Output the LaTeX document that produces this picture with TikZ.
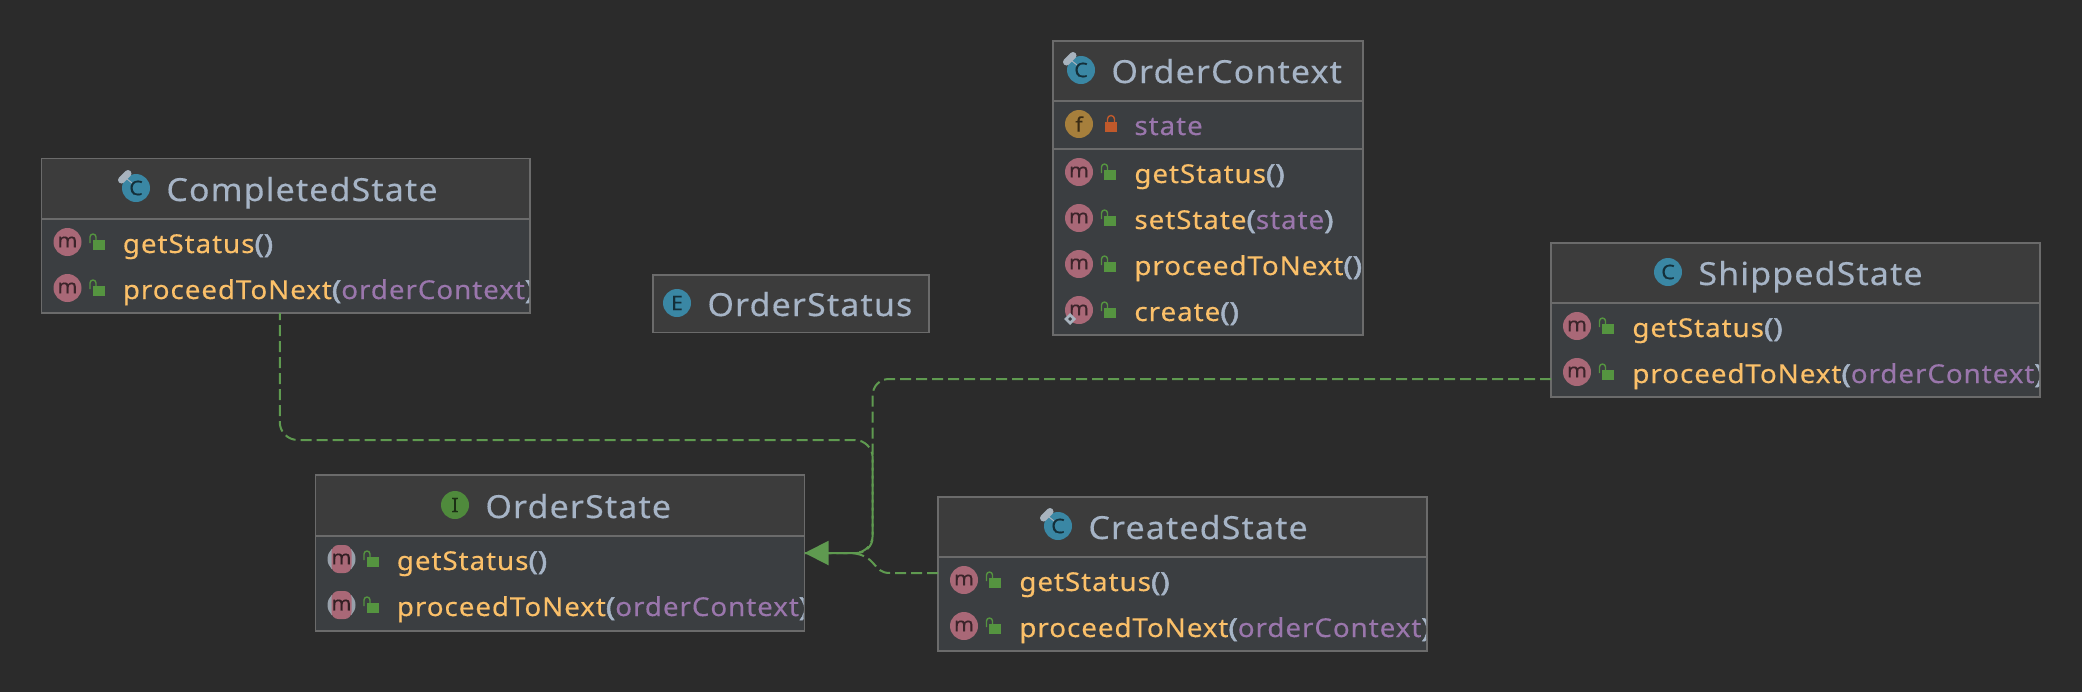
\documentclass[tikz,border=0pt]{standalone}
\usepackage{fontspec}
\setmainfont[FakeStretch=1.07,LetterSpace=3.5,FakeBold=.25]{Noto Sans}
\newfontfamily\parenfont[FakeStretch=1.2,FakeBold=2]{Noto Sans}
\usepackage{tikz}
\usetikzlibrary{
	positioning,
	arrows.meta
}

\definecolor{pagebg}{HTML}{2B2B2B}
\definecolor{headfill}{HTML}{3C3C3C}
\definecolor{bodyfill}{HTML}{3B3E41}
\definecolor{frameline}{HTML}{6B6B6B}
\definecolor{titlecol}{HTML}{A6B4C6}
\definecolor{methodcol}{HTML}{FBC069}
\definecolor{argcol}{HTML}{9A76AC}
\definecolor{linkgreen}{HTML}{5F9A50}
\definecolor{lockgreen}{HTML}{559440}
\definecolor{lockred}{HTML}{C0592B}
\definecolor{classblue}{HTML}{3A87A4}
\definecolor{methodrose}{HTML}{A96877}
\definecolor{fieldgold}{HTML}{A67F3C}
\definecolor{ifacegreen}{HTML}{4F8A3C}
\definecolor{markgrey}{HTML}{A8B3BE}

\tikzset{
	classbody/.style={draw=frameline,fill=bodyfill,line width=.75pt,inner sep=0pt,outer sep=0pt},
	framerule/.style={draw=frameline,line width=.75pt},
	icon/.style={circle,minimum size=14pt,inner sep=0pt,text=#1,font=\fontsize{10}{10}\selectfont},
	methodpill/.style={rectangle,rounded corners=3.5pt,minimum width=8.5pt,minimum height=14pt,inner sep=0pt,
		fill=methodrose,text=black!70!methodrose,font=\fontsize{10}{10}\selectfont},
	titletext/.style={anchor=base west,inner sep=0pt,text=titlecol,font=\fontsize{15.9}{18}\selectfont},
	rowtext/.style={anchor=base west,inner sep=0pt,font=\fontsize{13}{16}\selectfont},
	deplink/.style={draw=linkgreen,line width=1pt,dash pattern=on 5.5pt off 2.5pt},
}

\newcommand{\call}[2]{{\color{methodcol}#1}{\parenfont\color{titlecol}(}{\color{argcol}#2}{\parenfont\color{titlecol})}}

% name, left, top, right, bottom, header rule
\newcommand{\classframe}[6]{
	\node [classbody,minimum width={(#4-#2)*.5pt},minimum height={(#5-#3)*.5pt}] (#1) at ({(#2+#4)/2},{(#3+#5)/2}) {};
	\fill [headfill] (#2,#3) rectangle (#4,#6);
	\draw [framerule] (#1.north west) rectangle (#1.south east);
	\draw [framerule] (#2,#6) -- (#4,#6);
}
% name, icon x, baseline, fill, letter, text
\newcommand{\classtitle}[6]{
	\node [icon=black!65!#4,fill=#4] (#1icon) at (#2,{#3-13}) {#5};
	\node [titletext] (#1title) at ({#2+30},#3) {#6};
}
% pin of a class icon, at its centre
\newcommand{\pinmark}[2]{
	\draw [markgrey,line width=3.5pt,line cap=round] ({#1-14.5},{#2-8}) -- ({#1-8},{#2-14.5});
	\draw [markgrey,line width=.5pt] ({#1-9},{#2-9}) -- ({#1-4},{#2-5});
}
\newcommand{\openlock}[2]{
	\fill [lockgreen] ({#1-6},{#2-5}) rectangle ({#1+6},{#2+5});
	\draw [lockgreen,line width=.7pt] ({#1-8.5},{#2-2}) -- ({#1-8.5},{#2-8}) arc[start angle=180,end angle=360,radius=3] -- ({#1-2.5},{#2-5});
}
% name, box left, icon centre, text
\newcommand{\methodrow}[4]{
	\node [icon=black!65!methodrose,fill=methodrose] (#1icon) at ({#2+26},#3) {m};
	\openlock{#2+57}{#3+3}
	\node [rowtext] (#1) at ({#2+81},{#3+11}) {#4};
}
\newcommand{\abstractrow}[4]{
	\fill [markgrey!85!bodyfill] ({#2+26},#3) circle (7pt);
	\fill [bodyfill] ({#2+16.5},{#3-15}) rectangle ({#2+35.5},{#3+15});
	\node [methodpill] (#1icon) at ({#2+26},#3) {m};
	\openlock{#2+57}{#3+3}
	\node [rowtext] (#1) at ({#2+81},{#3+11}) {#4};
}

\begin{document}
\begin{tikzpicture}[x=.5pt,y=-.5pt]
	\useasboundingbox (0,0) rectangle (2082,692);
	\fill [pagebg] (0,0) rectangle (2082,692);

	% CompletedState
	\classframe{completedstate}{41.5}{158.5}{530}{313}{219}
	\classtitle{completed}{136}{201}{classblue}{C}{CompletedState}
	\pinmark{136}{188}
	\begin{scope}
		\clip (41.5,158.5) rectangle (529,313);
		\methodrow{completedget}{41.5}{242}{\call{getStatus}{}}
		\methodrow{completednext}{41.5}{288}{\call{proceedToNext}{orderContext}}
	\end{scope}

	% OrderStatus
	\classframe{orderstatus}{653}{275}{929}{332.5}{332.5}
	\classtitle{status}{677}{316}{classblue}{E}{OrderStatus}

	% OrderContext
	\classframe{ordercontext}{1053}{41}{1363}{335}{101}
	\classtitle{context}{1081}{83}{classblue}{C}{OrderContext}
	\pinmark{1081}{70}
	\draw [framerule] (1053,149) -- (1363,149);
	\node [icon=black!65!fieldgold,fill=fieldgold] (contextfieldicon) at (1079,124) {f};
	\fill [lockred] (1105,122) rectangle (1117,132);
	\draw [lockred,line width=.7pt] (1107.5,122) -- (1107.5,119) arc[start angle=180,end angle=360,radius=3.5] -- (1114.5,122);
	\begin{scope}
		\clip (1053,41) rectangle (1362,335);
		\node [rowtext,text=argcol] (contextfield) at (1134,135) {state};
		\methodrow{contextget}{1053}{172}{\call{getStatus}{}}
		\methodrow{contextset}{1053}{218}{\call{setState}{state}}
		\methodrow{contextnext}{1053}{264}{\call{proceedToNext}{}}
		\methodrow{contextcreate}{1053}{310}{\call{create}{}}
	\end{scope}
	\fill [markgrey] (1064,319) -- (1070,313) -- (1076,319) -- (1070,325) -- cycle;
	\fill [bodyfill] (1068,319) -- (1070,317) -- (1072,319) -- (1070,321) -- cycle;

	% ShippedState
	\classframe{shippedstate}{1551}{243}{2040}{397}{303}
	\classtitle{shipped}{1668}{285}{classblue}{C}{ShippedState}
	\begin{scope}
		\clip (1551,243) rectangle (2039,397);
		\methodrow{shippedget}{1551}{326}{\call{getStatus}{}}
		\methodrow{shippednext}{1551}{372}{\call{proceedToNext}{orderContext}}
	\end{scope}

	% OrderState
	\classframe{orderstate}{315.5}{475}{804.5}{631}{536}
	\classtitle{orderiface}{455}{518}{ifacegreen}{I}{OrderState}
	\begin{scope}
		\clip (315.5,475) rectangle (803.5,631);
		\abstractrow{orderget}{315.5}{559}{\call{getStatus}{}}
		\abstractrow{ordernext}{315.5}{605}{\call{proceedToNext}{orderContext}}
	\end{scope}

	% CreatedState
	\classframe{createdstate}{938}{497}{1427}{651}{557}
	\classtitle{created}{1058}{539}{classblue}{C}{CreatedState}
	\pinmark{1058}{526}
	\begin{scope}
		\clip (938,497) rectangle (1426,651);
		\methodrow{createdget}{938}{580}{\call{getStatus}{}}
		\methodrow{creatednext}{938}{626}{\call{proceedToNext}{orderContext}}
	\end{scope}

	% realizations
	\draw [deplink,dash phase=2pt,rounded corners=9pt]
		([xshift=-3pt]completedstate.south) -- ++(0,127) -- (872.7,440) -- (872.7,553) -- (orderstate.east);
	\draw [deplink] (createdstate.west |- 0,573) -- (890,573)
		.. controls (872,573) and (878,556) .. (852,553) -- (orderstate.east);
	\draw [deplink,rounded corners=8pt,-{Triangle[length=12pt,width=12pt]}]
		(shippedstate.west |- 0,379) -- (872.7,379) -- (872.7,553) -- (orderstate.east);
\end{tikzpicture}
\end{document}
